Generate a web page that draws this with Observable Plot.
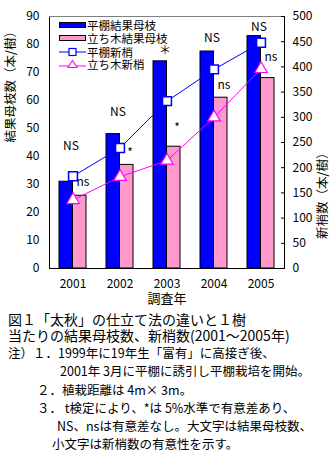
<!DOCTYPE html>
<html><head><meta charset="utf-8">
<script src="https://cdn.jsdelivr.net/npm/d3@7"></script>
<script src="https://cdn.jsdelivr.net/npm/@observablehq/plot@0.6"></script>
<style>
body{margin:0;background:#fff;font-family:"Noto Sans CJK JP",sans-serif;}
#wrap{position:relative;width:334px;height:452px;overflow:hidden;}
.ln{position:absolute;white-space:pre;color:#000;}
.cap{font-size:14px;line-height:15px;}
.note{font-size:12.5px;line-height:13px;}
.leg{position:absolute;left:59px;display:flex;align-items:center;font-size:11.5px;line-height:12px;height:12px;}
.leg svg{display:block;margin-right:1px;}
</style></head>
<body><div id="wrap"><div id="chart"></div></div>
<script>
const years = ["2001", "2002", "2003", "2004", "2005"];
const hiranaBranches = [31, 48, 74, 77.5, 83];       // 平棚結果母枝 (left axis)
const tachikiBranches = [26, 37, 43.5, 61, 68];      // 立ち木結果母枝 (left axis)
const hiranaShoots = [183, 239, 332, 395, 448];      // 平棚新梢 (right axis)
const tachikiShoots = [136, 182, 214, 300, 396];     // 立ち木新梢 (right axis)
const sigUpper = ["NS", "NS", "＊", "NS", "NS"];
const sigUpperAt = [43.6, 55.7, 77.5, 82.1, 86.1];
const sigLower = ["ns", "*", "*", "ns", "ns"];
const sigLowerAt = [30.8, 41.1, 50, 65.4, 75.4];
const leftTicks = [0, 10, 20, 30, 40, 50, 60, 70, 80, 90];
const rightTicks = [0, 50, 100, 150, 200, 250, 300, 350, 400, 450, 500];
const seriesNames = ["平棚結果母枝", "立ち木結果母枝", "平棚新梢", "立ち木新梢"];
const leftTitle = "結果母枝数（本/樹）";
const rightTitle = "新梢数（本/樹）";
const xTitle = "調査年";
const captionLines = ["図１「太秋」の仕立て法の違いと１樹", "当たりの結果母枝数、新梢数(2001～2005年)"];
const noteLines = ["注）１．1999年に19年生「富有」に高接ぎ後、", "2001年 3月に平棚に誘引し平棚栽培を開始。", "２．植栽距離は 4m× 3m。", "３． t検定により、*は 5%水準で有意差あり、", "NS、nsは有意差なし。大文字は結果母枝数、", "小文字は新梢数の有意性を示す。"];

const LMAX = 90, RMAX = 500;
const toLeft = v => v * LMAX / RMAX;
const rows = years.map((y, i) => ({
  year: y, hb: hiranaBranches[i], tb: tachikiBranches[i],
  hs: toLeft(hiranaShoots[i]), ts: toLeft(tachikiShoots[i]),
  up: sigUpper[i], upAt: sigUpperAt[i], lo: sigLower[i], loAt: sigLowerAt[i]
}));
const BLUE = "#0000ff", PINK = "#ff99cc", MAG = "#ff00ff";
const numFont = "Noto Sans CJK JP";

const chart = Plot.plot({
  width: 334, height: 310,
  marginTop: 16, marginBottom: 42, marginLeft: 49, marginRight: 50,
  style: {fontFamily: numFont, fontSize: "12px", background: "white", overflow: "visible"},
  x: {type: "band", domain: years, padding: 0, axis: null},
  y: {domain: [0, LMAX], axis: null},
  marks: [
    Plot.barY(rows, {x: "year", y: "hb", fill: BLUE, stroke: "black", strokeWidth: 1, insetLeft: 10, insetRight: 23.5}),
    Plot.barY(rows, {x: "year", y: "tb", fill: PINK, stroke: "black", strokeWidth: 1, insetLeft: 23.5, insetRight: 10}),
    Plot.frame({stroke: "black"}),
    Plot.ruleY([LMAX], {stroke: "#808080"}),
    Plot.line(rows, {x: "year", y: "hs", stroke: BLUE, strokeWidth: 1}),
    Plot.line(rows, {x: "year", y: "ts", stroke: MAG, strokeWidth: 1}),
    Plot.dot(rows, {x: "year", y: "hs", symbol: "square", r: 5, fill: "white", stroke: BLUE, strokeWidth: 1.5}),
    Plot.dot(rows, {x: "year", y: "ts", symbol: "triangle", r: 4.6, fill: "white", stroke: MAG, strokeWidth: 1.2}),
    Plot.text(rows, {x: "year", y: "upAt", text: "up", dx: -2, fontSize: 12, fill: "black"}),
    Plot.text(rows, {x: "year", y: "loAt", text: "lo", dx: 10, fontSize: 12, fill: "black"}),
    Plot.axisY(leftTicks, {anchor: "left", tickSize: 0, tickPadding: 10, label: null, fontSize: 12}),
    Plot.axisY(rightTicks.map(toLeft), {anchor: "right", tickSize: 4, dx: -4, tickPadding: 8, label: null, fontSize: 12,
      tickFormat: d => String(Math.round(d * RMAX / LMAX))}),
    Plot.axisX({tickSize: 0, tickPadding: 11, label: null, fontSize: 12}),
    Plot.text([xTitle], {frameAnchor: "bottom", dy: 34, fontSize: 13, text: d => d}),
    Plot.text([leftTitle], {frameAnchor: "left", dx: -39, rotate: -90, fontSize: 12.5, text: d => d}),
    Plot.text([rightTitle], {frameAnchor: "right", dx: 38, dy: 4, rotate: -90, fontSize: 12.5, text: d => d})
  ]
});
document.getElementById("chart").appendChild(chart);

const wrap = document.getElementById("wrap");
// legend
const legY = [25, 38, 51.5, 64];
const legKinds = [
  {type: "bar", fill: BLUE}, {type: "bar", fill: PINK},
  {type: "line", stroke: BLUE, sym: "square"}, {type: "line", stroke: MAG, sym: "triangle"}
];
seriesNames.forEach((name, i) => {
  const k = legKinds[i];
  const d = document.createElement("div");
  d.className = "leg";
  d.style.top = (legY[i] - 6) + "px";
  let sw;
  if (k.type === "bar") {
    sw = `<svg width="27" height="12"><rect x="0.5" y="3.5" width="26" height="5" fill="${k.fill}" stroke="black"/></svg>`;
  } else if (k.sym === "square") {
    sw = `<svg width="27" height="12"><line x1="0" x2="27" y1="6" y2="6" stroke="${k.stroke}"/><rect x="10" y="2.5" width="7" height="7" fill="white" stroke="${k.stroke}" stroke-width="1.2"/></svg>`;
  } else {
    sw = `<svg width="27" height="12"><line x1="0" x2="27" y1="8" y2="8" stroke="${k.stroke}"/><path d="M13.5,2.5 L18,9.5 L9,9.5 Z" fill="white" stroke="${k.stroke}" stroke-width="1.1"/></svg>`;
  }
  d.innerHTML = sw + `<span>${name}</span>`;
  wrap.appendChild(d);
});
// caption
const capY = [319, 335];
captionLines.forEach((t, i) => {
  const d = document.createElement("div");
  d.className = "ln cap"; d.textContent = t;
  d.style.left = "8px"; d.style.top = (capY[i] - 7.5) + "px";
  wrap.appendChild(d);
});
const noteY = [352, 370, 389, 407, 425, 443];
const noteX = [8, 60, 37, 37, 57, 52];
noteLines.forEach((t, i) => {
  const d = document.createElement("div");
  d.className = "ln note"; d.textContent = t;
  d.style.left = noteX[i] + "px"; d.style.top = (noteY[i] - 6.5) + "px";
  wrap.appendChild(d);
});
</script></body></html>
